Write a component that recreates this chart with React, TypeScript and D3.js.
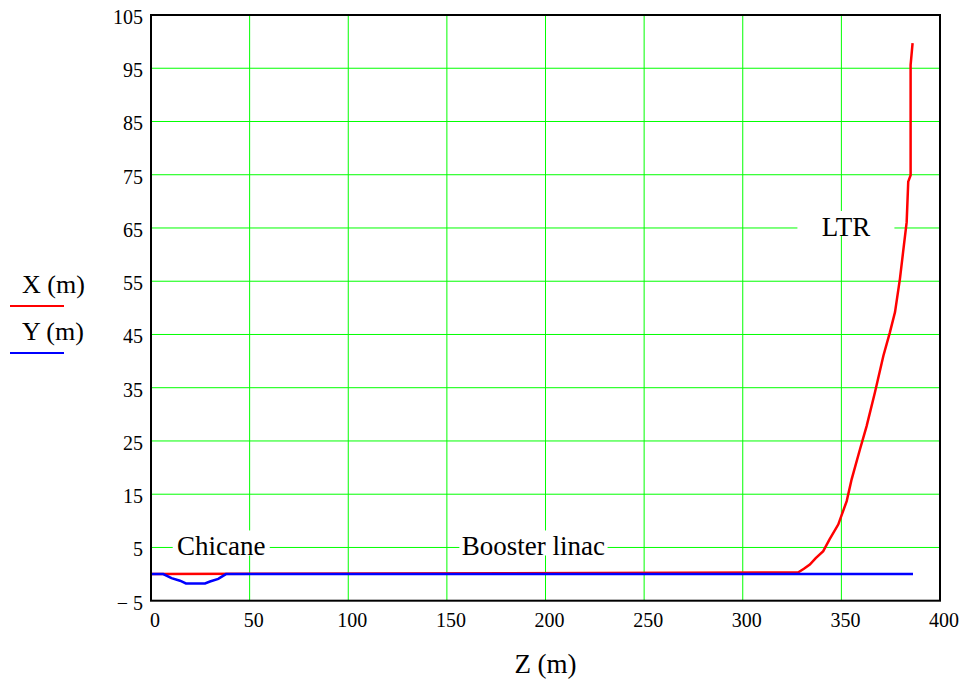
import * as d3 from "d3";

// X (m) vs Z (m), red trace
const redZ = [0, 328, 331, 334, 337, 340.8, 344, 348.4, 352.7, 355.2, 359.4, 362.8, 367.0, 371.3, 374.6, 377.2, 379.7, 381.3, 383.1, 383.9, 385.1, 385.1, 386.1];
const redX = [0, 0.3, 1.0, 1.8, 3.0, 4.3, 6.5, 9.3, 13.7, 17.8, 23.4, 27.8, 34.1, 41.0, 45.4, 49.2, 55.5, 60.5, 66.1, 73.7, 74.9, 95.6, 99.7];

// Y (m) vs Z (m), blue trace
const blueZ = [0, 6.2, 10.4, 14.7, 17.7, 27.4, 29.9, 34.1, 38, 386.3];
const blueY = [0, 0, -0.75, -1.25, -1.75, -1.75, -1.4, -0.9, 0, 0];

const xTicks = [0, 50, 100, 150, 200, 250, 300, 350, 400];
const yTicks = [-5, 5, 15, 25, 35, 45, 55, 65, 75, 85, 95, 105];

const noteText = ["Chicane", "Booster linac", "LTR"];
const noteZ = [35.6, 193.9, 352.3];
const noteV = [5, 5, 65];

const legendNames = ["X (m)", "Y (m)"];
const legendColors = ["#ff0000", "#0000ff"];

const W = 968, H = 683;
const FONT = '"Liberation Serif"';

const x = d3.scaleLinear([0, 400], [151, 940]);
const y = d3.scaleLinear([-5, 105], [600.7, 15]);
const green = "#00ff00";
const line = d3.line<[number, number]>().x(d => x(d[0])).y(d => y(d[1]));

// rough text width for the white label boxes
function textWidth(t: string, size: number) {
    const c = document.createElement("canvas").getContext("2d");
    if (!c) return t.length * size * 0.45;
    c.font = `${size}px "Liberation Serif"`;
    return c.measureText(t).width;
}

const App = () => {
    const redPath = line(redZ.map((z, i) => [z, redX[i]] as [number, number])) || "";
    const bluePath = line(blueZ.map((z, i) => [z, blueY[i]] as [number, number])) || "";

    return (
        <svg width={W} height={H}
             style={{ position: "absolute", left: 0, top: 0, background: "white" }}>
            {xTicks.slice(1, -1).map(d => (
                <line key={"gx" + d} x1={x(d)} x2={x(d)} y1={y(-5)} y2={y(105)} stroke={green} strokeWidth={1} />
            ))}
            {yTicks.slice(1, -1).map(d => (
                <line key={"gy" + d} x1={x(0)} x2={x(400)} y1={y(d)} y2={y(d)} stroke={green} strokeWidth={1} />
            ))}

            {noteText.map((t, i) => {
                const cx = x(noteZ[i]);
                const gy = y(noteV[i]);
                const bw = Math.max(97, textWidth(t, 27) + 5);
                return (
                    <g key={t}>
                        <rect x={cx - bw / 2} y={gy - 17} width={bw} height={25} fill="white" />
                        <text x={cx} y={gy + 8} textAnchor="middle"
                              style={{ fontFamily: FONT, fontSize: 27 }}>{t}</text>
                    </g>
                );
            })}

            <path d={redPath} fill="none" stroke="#ff0000" strokeWidth={2.5} />
            <path d={bluePath} fill="none" stroke="#0000ff" strokeWidth={2.5} />

            <rect x={x(0)} y={y(105)} width={x(400) - x(0)} height={y(-5) - y(105)}
                  fill="none" stroke="black" strokeWidth={2} />

            {xTicks.map(d => (
                <text key={"tx" + d} x={x(d) + 4} y={627} textAnchor="middle"
                      style={{ fontFamily: FONT, fontSize: 20 }}>{d}</text>
            ))}
            {yTicks.map(d => (
                <text key={"ty" + d} x={143} y={y(d) + 9} textAnchor="end"
                      style={{ fontFamily: FONT, fontSize: 20 }}>
                    {d < 0 ? "\u2212 " + Math.abs(d) : String(d)}
                </text>
            ))}

            <text x={(x(0) + x(400)) / 2} y={673} textAnchor="middle"
                  style={{ fontFamily: FONT, fontSize: 27 }}>Z (m)</text>

            {legendNames.map((n, i) => {
                const base = 293 + i * 47;
                return (
                    <g key={n}>
                        <text x={22} y={base} style={{ fontFamily: FONT, fontSize: 26 }}>{n}</text>
                        <line x1={10} x2={64} y1={base + 13} y2={base + 13}
                              stroke={legendColors[i]} strokeWidth={2} />
                    </g>
                );
            })}
        </svg>
    );
};

export default App;
